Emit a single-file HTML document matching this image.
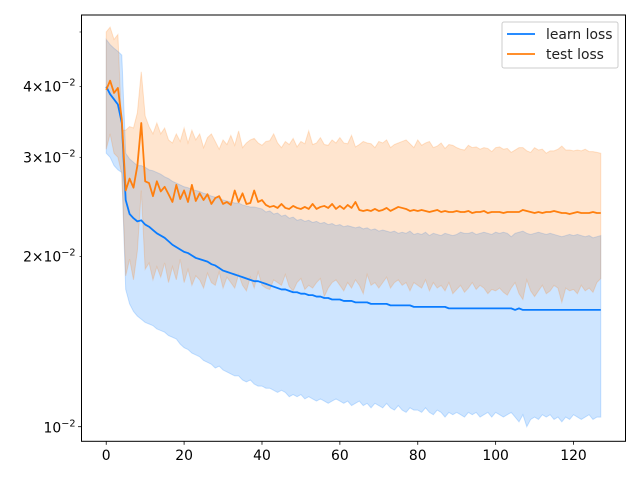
<!DOCTYPE html>
<html><head><meta charset="utf-8"><style>
html,body{margin:0;padding:0;background:#fff;}
svg{display:block;font-family:"DejaVu Sans","Liberation Sans",sans-serif;}
</style></head><body>
<svg id="chart" width="640" height="480" viewBox="0 0 640 480" xmlns="http://www.w3.org/2000/svg">
<rect width="640" height="480" fill="#fff"/>
<g id="bands"></g>
<g id="lines"></g>
<g id="axes"></g>
<g id="legend">
  <rect x="502" y="22" width="116" height="46" rx="2" fill="#fff" fill-opacity="0.8" stroke="#ccc" stroke-width="1"/>
  <g>
    <line x1="507" y1="34" x2="535" y2="34" stroke="#0a7cff" stroke-width="1.8"/>
    <text x="546" y="39" font-size="13.9" fill="#222">learn loss</text>
  </g>
  <g>
    <line x1="507" y1="54" x2="535" y2="54" stroke="#ff7f0e" stroke-width="1.8"/>
    <text x="546" y="59" font-size="13.9" fill="#222">test loss</text>
  </g>
</g>
</svg>
<script>
const learn=[.0400,.0388,.0380,.0372,.0345,.0252,.0238,.0234,.0231,.0232,
.0228,.0226,.0223,.0220,.0218,.0216,.0213,.0210,.0208,.0206,
.0204,.0203,.0201,.0199,.0198,.0197,.0196,.0194,.0193,.0191,
.0189,.0188,.0187,.0186,.0185,.0184,.0183,.0182,.0181,.0181,
.0180,.0179,.0178,.0177,.0176,.0175,.0175,.0174,.0173,.0173,
.0172,.0172,.0171,.0171,.0170,.0170,.0169,.0169,.0168,.0168,
.0168,.0167,.0167,.0167,.0166,.0166,.0166,.0166,.0165,.0165,
.0165,.0165,.0165,.0164,.0164,.0164,.0164,.0164,.0164,.0163,
.0163,.0163,.0163,.0163,.0163,.0163,.0163,.0163,.0162,.0162,
.0162,.0162,.0162,.0162,.0162,.0162,.0162,.0162,.0162,.0162,
.0162,.0162,.0162,.0162,.0162,.0161,.0162,.0161,.0161,.0161,
.0161,.0161,.0161,.0161,.0161,.0161,.0161,.0161,.0161,.0161,
.0161,.0161,.0161,.0161,.0161,.0161,.0161,.0161];
const test=[.0395,.0410,.0390,.0398,.0350,.0262,.0275,.0265,.0290,.0345,
.0272,.0270,.0256,.0272,.0261,.0266,.0258,.0250,.0268,.0253,
.0262,.0250,.0268,.0251,.0259,.0252,.0258,.0248,.0254,.0256,
.0248,.0250,.0247,.0262,.0250,.0259,.0248,.0249,.0262,.0250,
.0252,.0247,.0245,.0246,.0244,.0248,.0244,.0243,.0246,.0244,
.0243,.0245,.0243,.0248,.0243,.0245,.0246,.0244,.0248,.0243,
.0246,.0243,.0247,.0244,.0250,.0242,.0241,.0242,.0241,.0243,
.0241,.0242,.0244,.0241,.0243,.0245,.0244,.0243,.0241,.0242,
.0241,.0242,.0241,.0240,.0241,.0242,.0240,.0241,.0240,.0240,
.0241,.0240,.0240,.0241,.0239,.0240,.0240,.0241,.0239,.0240,
.0240,.0240,.0239,.0240,.0240,.0240,.0240,.0242,.0241,.0240,
.0239,.0240,.0239,.0240,.0240,.0241,.0240,.0239,.0239,.0238,
.0239,.0240,.0239,.0239,.0239,.0240,.0239,.0239];
const learnHi=[.0485,.0475,.0468,.0462,.0455,.0305,.0298,.0294,.0290,.0290,
.0288,.0285,.0284,.0282,.0280,.0277,.0275,.0272,.0270,.0268,
.0266,.0265,.0263,.0262,.0261,.0259,.0258,.0256,.0255,.0254,
.0252,.0251,.0250,.0249,.0249,.0247,.0246,.0245,.0245,.0244,
.0243,.0240,.0241,.0238,.0239,.0236,.0237,.0234,.0235,.0232,
.0233,.0231,.0232,.0230,.0231,.0229,.0230,.0228,.0229,.0227,
.0228,.0226,.0227,.0226,.0225,.0226,.0224,.0225,.0223,.0224,
.0222,.0223,.0222,.0221,.0222,.0220,.0221,.0220,.0222,.0219,
.0220,.0219,.0221,.0218,.0220,.0219,.0218,.0220,.0219,.0218,
.0219,.0221,.0220,.0220,.0221,.0219,.0220,.0221,.0220,.0219,
.0221,.0220,.0221,.0220,.0217,.0220,.0221,.0222,.0220,.0219,
.0220,.0221,.0220,.0219,.0220,.0219,.0218,.0217,.0218,.0219,
.0218,.0219,.0218,.0217,.0218,.0216,.0217,.0218];
const learnLo=[.0305,.0300,.0290,.0285,.0282,.0175,.0165,.0160,.0157,.0155,
.0153,.0152,.0151,.0149,.0148,.0147,.0145,.0144,.0143,.0140,
.0138,.0137,.0135,.0134,.0133,.0131,.0130,.0129,.0127,.0128,
.0126,.0125,.0124,.0123,.0123,.0121,.0120,.0121,.0119,.0118,
.0118,.0117,.0117,.0116,.0115,.0116,.0115,.0113,.0114,.0113,
.0114,.0112,.0113,.0112,.0111,.0112,.0111,.0110,.0111,.0112,
.0111,.0110,.0111,.0109,.0110,.0111,.0109,.0110,.0108,.0110,
.0109,.0108,.0110,.0108,.0107,.0109,.0107,.0106,.0108,.0107,
.0107,.0106,.0108,.0106,.0105,.0107,.0106,.0104,.0106,.0105,
.0106,.0105,.0104,.0106,.0105,.0106,.0104,.0105,.0106,.0104,
.0106,.0105,.0104,.0105,.0106,.0104,.0102,.0105,.0100,.0103,
.0104,.0103,.0105,.0104,.0105,.0103,.0104,.0102,.0104,.0103,
.0105,.0104,.0103,.0104,.0105,.0103,.0104,.0104];
const testHi=[.0500,.0510,.0485,.0495,.0335,.0335,.0340,.0338,.0360,.0425,
.0355,.0340,.0330,.0345,.0330,.0338,.0322,.0318,.0330,.0320,
.0338,.0318,.0335,.0322,.0330,.0312,.0325,.0330,.0320,.0310,
.0322,.0316,.0328,.0315,.0334,.0312,.0318,.0322,.0324,.0318,
.0315,.0320,.0321,.0330,.0318,.0312,.0320,.0316,.0324,.0313,
.0320,.0317,.0334,.0316,.0318,.0325,.0316,.0315,.0322,.0318,
.0325,.0318,.0317,.0328,.0313,.0316,.0320,.0318,.0317,.0312,
.0320,.0318,.0322,.0312,.0316,.0318,.0320,.0322,.0317,.0312,
.0322,.0315,.0318,.0320,.0312,.0314,.0318,.0311,.0316,.0315,
.0312,.0310,.0309,.0315,.0312,.0313,.0310,.0312,.0311,.0307,
.0312,.0313,.0310,.0311,.0306,.0309,.0312,.0312,.0308,.0306,
.0312,.0309,.0310,.0305,.0308,.0308,.0310,.0314,.0309,.0309,
.0308,.0309,.0308,.0310,.0307,.0307,.0306,.0305];
const testLo=[.0310,.0330,.0305,.0300,.0280,.0185,.0198,.0182,.0205,.0262,
.0190,.0195,.0182,.0192,.0184,.0195,.0180,.0192,.0182,.0198,
.0180,.0190,.0178,.0185,.0182,.0176,.0187,.0180,.0178,.0188,
.0176,.0184,.0180,.0176,.0186,.0178,.0174,.0184,.0176,.0188,
.0178,.0176,.0175,.0182,.0180,.0178,.0186,.0177,.0174,.0180,
.0183,.0175,.0178,.0176,.0180,.0183,.0170,.0176,.0180,.0182,
.0178,.0174,.0180,.0176,.0182,.0178,.0172,.0186,.0178,.0180,
.0176,.0180,.0184,.0176,.0180,.0182,.0178,.0180,.0174,.0180,
.0178,.0176,.0182,.0174,.0180,.0176,.0178,.0174,.0180,.0172,
.0175,.0178,.0173,.0176,.0180,.0175,.0178,.0176,.0172,.0175,
.0174,.0176,.0173,.0171,.0176,.0180,.0172,.0168,.0182,.0174,
.0170,.0174,.0178,.0172,.0174,.0178,.0176,.0166,.0176,.0174,
.0175,.0172,.0178,.0174,.0176,.0173,.0180,.0183];
const xTicks=[0,20,40,60,80,100,120];
const yMinorTicks=[0.02,0.03,0.04,0.05];
const yMinorLabels=["2","3","4",""];
const yMajorTicks=[0.01];

const NS="http://www.w3.org/2000/svg";
const L=81.5,R=625.5,T=15,B=441.3;
const X0=-6.35,X1=133.35;
const Y0=Math.log10(0.01)-(B-426.7)/564.7, Y1=Math.log10(0.01)+(426.7-T)/564.7;
function sx(v){return L+(v-X0)/(X1-X0)*(R-L);}
function sy(v){return B-(Math.log10(v)-Y0)/(Y1-Y0)*(B-T);}
function mk(tag,attrs,parent){const e=document.createElementNS(NS,tag);for(const k in attrs)e.setAttribute(k,attrs[k]);parent.appendChild(e);return e;}
function linePts(arr){return arr.map((v,i)=>sx(i).toFixed(2)+","+sy(v).toFixed(2)).join(" ");}
function bandPts(lo,hi){const a=hi.map((v,i)=>sx(i).toFixed(2)+","+sy(v).toFixed(2));const b=lo.map((v,i)=>sx(i).toFixed(2)+","+sy(v).toFixed(2)).reverse();return a.concat(b).join(" ");}

const bands=document.getElementById("bands");
const lb=mk("polygon",{points:bandPts(learnLo,learnHi),fill:"#0a7cff","fill-opacity":"0.2",stroke:"#0a7cff","stroke-opacity":"0.2","stroke-width":"1"},bands);


const tb=mk("polygon",{points:bandPts(testLo,testHi),fill:"#ff7f0e","fill-opacity":"0.2",stroke:"#ff7f0e","stroke-opacity":"0.2","stroke-width":"1"},bands);



const lines=document.getElementById("lines");
const ll=mk("polyline",{points:linePts(learn),fill:"none",stroke:"#0a7cff","stroke-width":"1.8","stroke-linejoin":"round"},lines);


const tl=mk("polyline",{points:linePts(test),fill:"none",stroke:"#ff7f0e","stroke-width":"1.8","stroke-linejoin":"round"},lines);



const axes=document.getElementById("axes");
const frame=mk("rect",{x:L,y:T,width:R-L,height:B-T,fill:"none",stroke:"#000","stroke-width":"1"},axes);


xTicks.forEach(v=>{
  const x=sx(v);
  const t=mk("line",{x1:x,y1:B,x2:x,y2:B+3.5,stroke:"#000","stroke-width":"0.8"},axes);
  
  
  const tx=mk("text",{x:x,y:B+18.5,"font-size":"13.9","text-anchor":"middle",fill:"#000"},axes);
  
  
  tx.textContent=String(v);
});
yMinorTicks.forEach((v,i)=>{
  const y=sy(v);
  const t=mk("line",{x1:L-2,y1:y,x2:L,y2:y,stroke:"#000","stroke-width":"0.6"},axes);
  
  
  if(yMinorLabels[i]){
    const tx=mk("text",{x:L-6,y:y+5,"font-size":"13.9","text-anchor":"end",fill:"#000"},axes);
    
    
    tx.innerHTML=yMinorLabels[i]+"\u00d710<tspan font-size='9.7' dy='-6'>\u22122</tspan>";
  }
});
yMajorTicks.forEach(v=>{
  const y=sy(v);
  const t=mk("line",{x1:L-3.5,y1:y,x2:L,y2:y,stroke:"#000","stroke-width":"0.8"},axes);
  
  
  const tx=mk("text",{x:L-6,y:y+6,"font-size":"13.9","text-anchor":"end",fill:"#000"},axes);
  
  
  tx.innerHTML="10<tspan font-size='9.7' dy='-6'>\u22122</tspan>";
});
</script>
</body></html>
